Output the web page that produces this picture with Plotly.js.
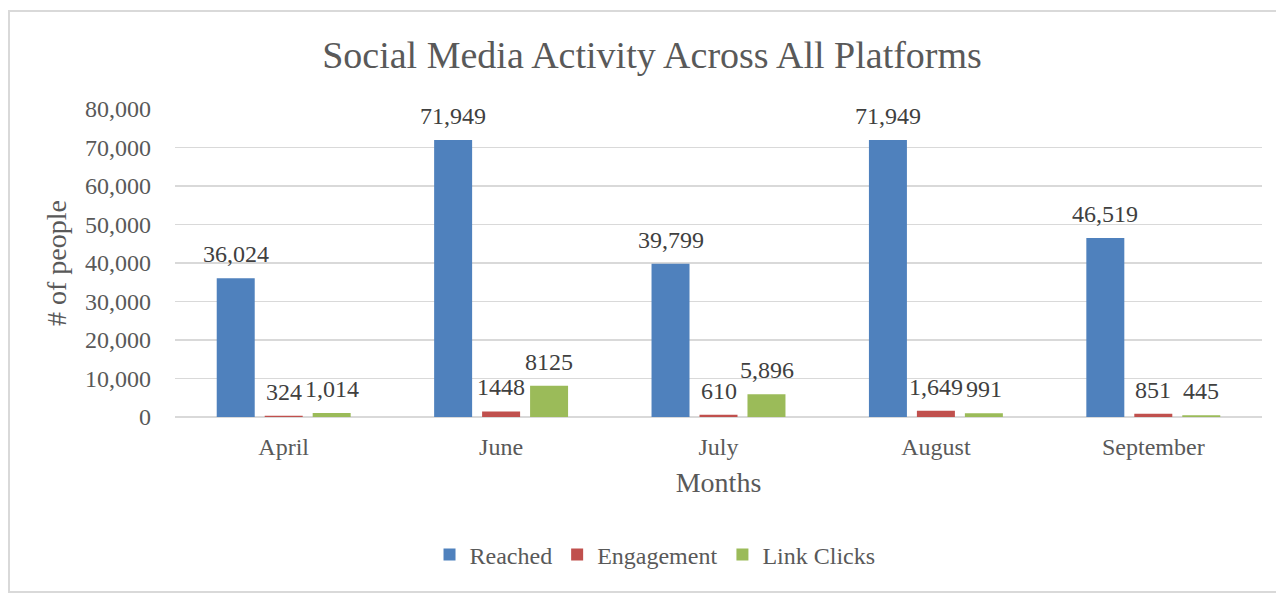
<!DOCTYPE html>
<html>
<head>
<meta charset="utf-8">
<script src="https://cdn.plot.ly/plotly-3.0.1.min.js"></script>
<style>
html,body{margin:0;padding:0;background:#fff;}
#chart{width:1276px;height:593px;}
</style>
</head>
<body>
<div id="chart"></div>
<script>
const months = ["April", "June", "July", "August", "September"];
const reached = [36024, 71949, 39799, 71949, 46519];
const engagement = [324, 1448, 610, 1649, 851];
const linkClicks = [1014, 8125, 5896, 991, 445];
const reachedLabels = ["36,024", "71,949", "39,799", "71,949", "46,519"];
const engagementLabels = ["324", "1448", "610", "1,649", "851"];
const linkClicksLabels = ["1,014", "8125", "5,896", "991", "445"];
const yTickVals = [0, 10000, 20000, 30000, 40000, 50000, 60000, 70000, 80000];
const yTickText = ["0", "10,000", "20,000", "30,000", "40,000", "50,000", "60,000", "70,000", "80,000"];

const FONT = "'Liberation Serif', 'Times New Roman', serif";
const labelFont = {family: FONT, size: 24, color: "#404040"};

function series(name, y, color) {
  return {
    type: "bar", name: name, x: months, y: y,
    marker: {color: color, line: {width: 0}},
    hoverinfo: "x+y+name"
  };
}

const data = [
  series("Reached", reached, "#4F81BD"),
  series("Engagement", engagement, "#C0504D"),
  series("Link Clicks", linkClicks, "#9BBB59")
];

// data labels, placed above each bar of the grouped set
const groups = [[reached, reachedLabels], [engagement, engagementLabels], [linkClicks, linkClicksLabels]];
const slotPx = 48;
const annotations = [];
groups.forEach(function (g, ti) {
  months.forEach(function (m, i) {
    annotations.push({
      x: m, y: g[0][i], xref: "x", yref: "y", text: g[1][i],
      showarrow: false, xanchor: "center", yanchor: "bottom",
      xshift: (ti - 1) * slotPx, yshift: 9, font: labelFont
    });
  });
});

const layout = {
  width: 1276, height: 593,
  paper_bgcolor: "#ffffff", plot_bgcolor: "#ffffff",
  margin: {l: 175, r: 14, t: 109, b: 176},
  font: {family: FONT, color: "#595959", size: 24},
  title: {text: "Social Media Activity Across All Platforms", x: 0.511, xanchor: "center", xref: "container",
          y: 0.907, yanchor: "middle", yref: "container",
          font: {family: FONT, size: 38, color: "#595959"}},
  barmode: "group", bargap: 0.338, bargroupgap: 0.208,
  showlegend: true,
  legend: {orientation: "h", x: 0.4416, xanchor: "center", y: -0.448, yanchor: "middle",
           font: {family: FONT, size: 24, color: "#595959"}, traceorder: "normal"},
  xaxis: {
    type: "category", showgrid: false, showline: false, zeroline: false, ticks: "",
    tickfont: {family: FONT, size: 24, color: "#595959"}, ticklabelstandoff: 13,
    title: {text: "Months", standoff: 13, font: {family: FONT, size: 28, color: "#595959"}}
  },
  yaxis: {
    range: [0, 80000], tickvals: yTickVals, ticktext: yTickText,
    showgrid: true, gridcolor: "#d9d9d9", gridwidth: 1.5,
    zeroline: true, zerolinecolor: "#d9d9d9", zerolinewidth: 1.5,
    showline: false, ticks: "", ticklabelstandoff: 23,
    tickfont: {family: FONT, size: 24, color: "#595959"},
    title: {text: "# of people", standoff: 10, font: {family: FONT, size: 28, color: "#595959"}}
  },
  annotations: annotations,
  shapes: [{type: "rect", xref: "paper", yref: "paper",
            x0: -0.1527, x1: 1.02, y0: -0.568, y1: 1.318,
            line: {color: "#d9d9d9", width: 2}, fillcolor: "rgba(0,0,0,0)", layer: "below"}]
};

Plotly.newPlot("chart", data, layout, {displayModeBar: false, staticPlot: true});
</script>
</body>
</html>
